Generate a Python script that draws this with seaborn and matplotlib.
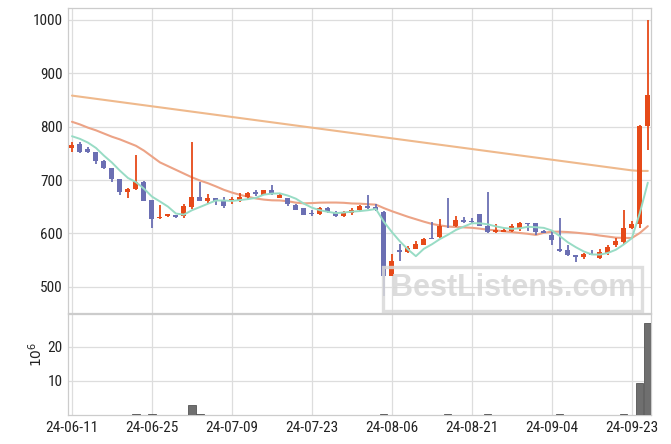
import numpy as np
import pandas as pd
import matplotlib
matplotlib.use("Agg")
import matplotlib.pyplot as plt
import seaborn as sns
from matplotlib.patches import Rectangle

# ---------------- data ----------------
tick_labels = ["24-06-11", "24-06-25", "24-07-09", "24-07-23",
               "24-08-06", "24-08-21", "24-09-04", "24-09-23"]

opens = [760, 768, 758, 752, 736, 722, 701, 677, 683, 697,
         662, 628, 632, 634, 632, 650, 669, 661, 666, 663,
         661, 661, 668, 677, 672, 681, 667, 666, 654, 647,
         637, 636, 647, 641, 632, 638, 644, 652, 649, 640,
         521, 569, 565, 571, 579, 592, 594, 614, 613, 625,
         623, 636, 614, 603, 603, 605, 609, 619, 619, 605,
         597, 570, 569, 559, 556, 562, 554, 563, 578, 584,
         611, 617, 802]
closes = [766, 753, 752, 735, 722, 701, 677, 684, 696, 661,
          627, 631, 636, 631, 651, 668, 661, 667, 661, 651,
          664, 669, 676, 673, 681, 674, 671, 655, 644, 635,
          636, 647, 640, 632, 641, 644, 652, 648, 644, 521,
          548, 565, 573, 580, 590, 590, 614, 613, 625, 622,
          621, 614, 603, 606, 607, 613, 619, 617, 602, 601,
          588, 567, 559, 556, 561, 560, 566, 574, 586, 611,
          618, 801, 859]
highs = [771, 771, 761, 753, 738, 723, 702, 685, 747, 699,
         663, 653, 637, 635, 655, 772, 696, 673, 667, 669,
         669, 676, 677, 681, 682, 691, 676, 667, 655, 648,
         644, 649, 650, 642, 642, 647, 654, 671, 656, 642,
         561, 580, 576, 586, 591, 621, 627, 666, 633, 630,
         629, 637, 677, 617, 610, 618, 622, 620, 620, 606,
         606, 628, 578, 560, 564, 569, 570, 578, 591, 644,
         624, 803, 999]
lows = [752, 750, 751, 730, 721, 696, 671, 666, 681, 660,
        611, 627, 630, 629, 629, 646, 660, 657, 653, 647,
        655, 658, 663, 670, 671, 672, 666, 652, 643, 634,
        632, 635, 638, 631, 631, 635, 641, 645, 642, 482,
        520, 549, 564, 570, 578, 589, 592, 611, 612, 620,
        619, 613, 600, 601, 602, 602, 605, 604, 597, 600,
        578, 565, 558, 547, 553, 559, 553, 559, 574, 581,
        609, 611, 756]
ma_short = [782, 777, 770, 760, 745.6, 732.6, 717.4, 703.8, 696.0, 683.8,
            669.0, 659.8, 650.2, 637.2, 635.2, 643.4, 649.4, 655.6, 661.6, 661.6,
            660.8, 662.4, 664.2, 666.6, 672.6, 674.6, 675.0, 670.8, 665.0, 655.8,
            648.2, 643.4, 640.4, 638.0, 639.2, 640.8, 641.8, 643.4, 645.8, 621.8,
            602.6, 585.2, 570.2, 557.4, 571.2, 579.6, 589.4, 597.4, 606.4, 612.8,
            619.0, 619.0, 617.0, 613.2, 610.2, 608.6, 609.6, 612.4, 611.6, 610.4,
            605.4, 595.0, 583.4, 574.2, 566.2, 560.6, 560.4, 563.4, 569.4, 579.4,
            591.0, 638.0, 695.0]
ma_mid = [809, 804, 798, 793, 787, 781, 776, 770, 764, 755,
          744, 733, 726, 719, 712, 705, 699, 694, 688, 681.6,
          676.5, 672.3, 668.5, 665.4, 663.3, 662.0, 661.7, 660.2, 657.6, 656.3,
          656.8, 657.6, 657.8, 657.8, 657.3, 656.1, 655.7, 654.7, 653.9, 647.4,
          641.6, 636.4, 631.2, 626.6, 622.0, 617.8, 615.0, 612.9, 611.9, 611.3,
          610.5, 608.9, 607.0, 605.7, 604.0, 602.5, 600.8, 599.3, 597.2, 601.2,
          603.2, 603.3, 602.6, 601.4, 599.9, 598.4, 596.0, 594.1, 592.1, 591.6,
          591.4, 600.8, 613.6]
ma_long = [858, 856, 854, 852, 850, 848, 846, 844, 842, 840,
           838, 836, 834, 832, 830, 828, 826, 824, 822, 820,
           818, 816, 814, 812, 810, 808, 806, 804, 802, 800,
           798, 796, 794, 792, 790, 788, 786, 784, 782, 780,
           778, 776, 774, 772, 770, 768, 766, 764, 762, 760,
           758, 756, 754, 752, 750, 748, 746, 744, 742, 740,
           738, 736, 734, 732, 730, 728, 726, 724, 722, 720,
           718, 717, 717]
volume_m = [0.05, 0.05, 0.05, 0.05, 0.05, 0.05, 0.05, 0.05, 0.3, 0.05,
            0.3, 0.05, 0.05, 0.05, 0.05, 2.8, 0.3, 0.05, 0.05, 0.05,
            0.05, 0.05, 0.05, 0.05, 0.05, 0.05, 0.05, 0.05, 0.05, 0.05,
            0.05, 0.05, 0.05, 0.05, 0.05, 0.05, 0.05, 0.05, 0.05, 0.3,
            0.05, 0.05, 0.05, 0.05, 0.05, 0.05, 0.05, 0.3, 0.05, 0.05,
            0.05, 0.05, 0.3, 0.05, 0.05, 0.05, 0.05, 0.05, 0.05, 0.05,
            0.05, 0.3, 0.05, 0.05, 0.05, 0.05, 0.05, 0.05, 0.05, 0.3,
            0.05, 9.5, 27.0]

# ---------------- styling ----------------
sns.set_theme(style="whitegrid")
plt.rcParams["font.family"] = ["Roboto Condensed", "Asap Condensed", "Archivo Narrow", "DejaVu Sans"]

UP = "#e64a19"
DOWN = "#6b6fb3"
GRID = "#dddddd"

df = pd.DataFrame({"open": opens, "high": highs, "low": lows, "close": closes,
                   "ma_short": ma_short, "ma_mid": ma_mid, "ma_long": ma_long,
                   "volume": volume_m})
df["idx"] = np.arange(len(df))
up = df["close"] >= df["open"]
colors = np.where(up, UP, DOWN)

fig = plt.figure(figsize=(6.71, 4.44), dpi=100)
ax = fig.add_axes([0.1013, 0.295, 0.8689, 0.687])
axv = fig.add_axes([0.1013, 0.0653, 0.8689, 0.2275], sharex=ax)

for a in (ax, axv):
    a.set_facecolor("white")
    a.grid(True, color=GRID, linewidth=0.9)
    for s in a.spines.values():
        s.set_color("#cccccc")
        s.set_linewidth(0.9)
    a.tick_params(axis="both", length=0, labelsize=11, colors="#222222", pad=4)

# moving averages
sns.lineplot(data=df, x="idx", y="ma_long", ax=ax, color="#efb98c", linewidth=1.5, zorder=2)
sns.lineplot(data=df, x="idx", y="ma_mid", ax=ax, color="#eca386", linewidth=1.5, zorder=2)
sns.lineplot(data=df, x="idx", y="ma_short", ax=ax, color="#98dcc5", linewidth=1.4, zorder=4)

# candlesticks
ax.vlines(df["idx"], df["low"], df["high"], colors=colors, linewidth=1.3, zorder=3)
body_h = np.maximum((df["close"] - df["open"]).abs(), 1.5)
body_b = np.minimum(df["open"], df["close"])
ax.bar(df["idx"], body_h, bottom=body_b, width=0.62, color=colors, linewidth=0, zorder=3)

ax.set_ylim(451, 1022)
ax.set_yticks([500, 600, 700, 800, 900, 1000])
ax.set_xlim(-0.5, 72.4)
ax.set_xlabel("")
ax.set_ylabel("")
plt.setp(ax.get_xticklabels(), visible=False)

# volume
axv.bar(df["idx"], df["volume"], width=0.9, color="#6f6f6f", edgecolor="#555555",
        linewidth=0.6, zorder=3)
axv.set_ylim(0, 29.7)
axv.set_yticks([10, 20])
axv.set_xticks(np.arange(0, len(df), 10))
axv.set_xticklabels(tick_labels)
axv.set_ylabel("$10^6$", fontsize=10, color="#222222", labelpad=4, family="DejaVu Sans")
axv.yaxis.set_label_coords(-0.04, 0.6)

# watermark
fig.patches.append(Rectangle((0.5708, 0.2995), 0.386, 0.099, transform=fig.transFigure,
                             fill=False, edgecolor="#d9d9d9", linewidth=2.4, alpha=0.85,
                             zorder=10))
fig.text(0.7645, 0.351, "BestListens.com", ha="center", va="center",
         fontsize=22, fontweight="bold", color="#d6d6d6", alpha=0.85,
         family=["Liberation Sans", "DejaVu Sans"], zorder=10)

fig.savefig("out.png", dpi=100)
